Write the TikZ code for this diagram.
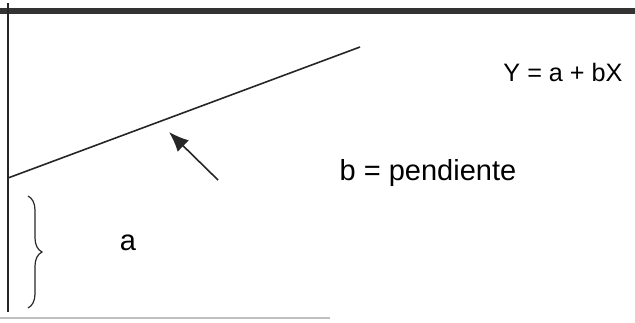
\documentclass[tikz,border=0pt]{standalone}
\usepackage{fontspec}
\setmainfont{Liberation Sans}
\usetikzlibrary{arrows.meta,decorations.pathreplacing}
\tikzset{
  axisline/.style={draw=black!85, line width=0.8pt},
  frameline/.style={draw=black!80, line width=3pt},
  pointer/.style={-{Latex[length=3.5mm,width=2.8mm]}, line width=0.8pt, draw=black!85},
  lbl/.style={font=\fontsize{14.5}{16}\selectfont, inner sep=0pt},
  eqlbl/.style={font=\fontsize{12.6}{14}\selectfont, inner sep=0pt}
}
\begin{document}
\begin{tikzpicture}[x=0.5pt, y=-0.5pt]
  \useasboundingbox (0,0) rectangle (635,322);
  % frame and axis
  \coordinate (topl) at (0,11);
  \coordinate (topr) at (635,11);
  \coordinate (axtop) at (8,3);
  \coordinate (axbot) at (8,312);
  \draw[frameline] (topl) -- (topr);
  \draw[axisline] (axtop) -- (axbot);
  \coordinate (botl) at (0,318);
  \coordinate (botr) at (330,318);
  \draw[draw=black!25, line width=1pt] (botl) -- (botr);

  % regression line
  \coordinate (start) at (8,178);
  \coordinate (stop) at (360,47);
  \draw[axisline] (start) -- (stop);

  % slope pointer
  \coordinate (ptail) at (218,180);
  \coordinate (phead) at (169,132);
  \draw[pointer] (ptail) -- (phead);

  % intercept brace
  \coordinate (brtop) at (28,196);
  \coordinate (brbot) at (28,308);
  \draw[draw=black!85, line width=0.6pt, decorate, decoration={brace, amplitude=7pt}] (brtop) -- (brbot);

  \node[eqlbl] (eq) at (563,72) {Y = a + bX};
  \node[lbl] (slope) at (428,173) {b = pendiente};
  \node[lbl] (icpt) at (128,243) {a};
\end{tikzpicture}
\end{document}
